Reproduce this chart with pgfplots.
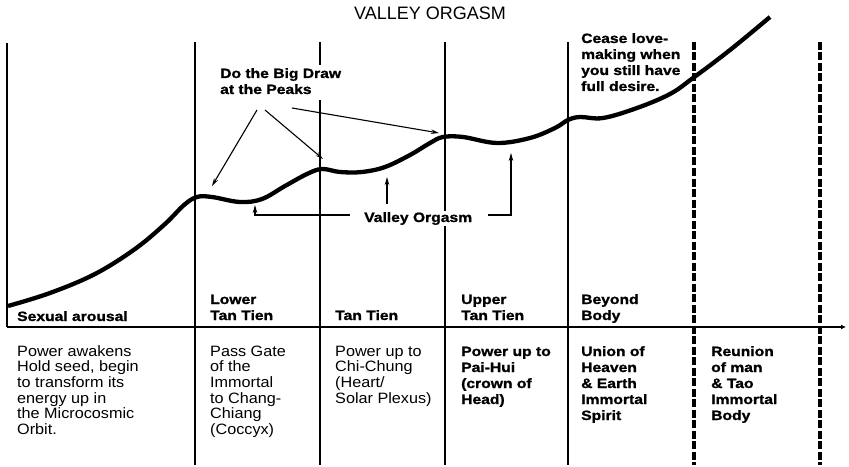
\documentclass[border=0pt]{standalone}
\usepackage{pgfplots}
\pgfplotsset{compat=1.18}
\usepackage{fontspec}
\setmainfont{Liberation Sans}
\newfontfamily\regf[FakeStretch=1.08]{Liberation Sans}
\newfontfamily\boldf[FakeStretch=1.16,FakeBold=1.2]{Liberation Sans Bold}
\usetikzlibrary{arrows.meta}
\newcommand{\ml}[1]{\begin{tabular}[t]{@{}l@{}}#1\end{tabular}}
\tikzset{
  reg/.style={anchor=base west, inner sep=0pt, font={\regf\fontsize{15bp}{15.7bp}\selectfont}},
  bld/.style={anchor=base west, inner sep=0pt, font={\boldf\fontsize{13.5bp}{16bp}\selectfont}},
  ann/.style={black, line width=1.1bp, -{Stealth[length=8bp,width=4.5bp]}},
}
\begin{document}
\begin{tikzpicture}
\begin{axis}[
  width=849bp, height=467bp, scale only axis,
  xmin=0, xmax=849, ymin=0, ymax=467, y dir=reverse,
  hide axis, clip=false,
]
\path (axis cs:0,0) rectangle (axis cs:849,467);
% frame lines
\addplot[black, line width=2.5bp] coordinates {(7,43) (7,327)};
\addplot[black, line width=2.5bp] coordinates {(195,42) (195,465)};
\addplot[black, line width=2.5bp] coordinates {(320,42) (320,465)};
\addplot[black, line width=2.5bp] coordinates {(445,42) (445,465)};
\addplot[black, line width=2.5bp] coordinates {(568,42) (568,465)};
\addplot[black, line width=3.5bp, dash pattern=on 8bp off 2.5bp] coordinates {(694,42) (694,465)};
\addplot[black, line width=3.5bp, dash pattern=on 8bp off 2.5bp] coordinates {(820,42) (820,465)};
\addplot[black, line width=2.5bp, -{Latex[length=5bp,width=5bp]}] coordinates {(7,327) (846,327)};
% curve
\addplot[black, line width=4.3bp, smooth, tension=0.6] coordinates {
(8,306) (50,293) (95,274) (135,249) (165,224) (184,205) (197,197)
(212,197) (240,202) (262,199) (285,186) (307,174) (322,169) (340,172) (362,172) (385,167)
(410,155) (430,143) (443,137) (463,137) (497,143) (530,138) (555,128) (568,120)
(580,117) (603,118) (637,108) (670,94) (693,78) (730,50) (770,17)};
% annotation arrows
\addplot[ann] coordinates {(257,110) (212,186)};
\addplot[ann] coordinates {(265,110) (323,159)};
\addplot[ann] coordinates {(292,108) (439,133)};
\addplot[ann] coordinates {(350,215) (255,215) (255,205)};
\addplot[ann] coordinates {(387,204) (387,177)};
\addplot[ann] coordinates {(488,215) (511,215) (511,153)};
% title
\node[anchor=base, inner sep=0pt, font={\fontsize{18bp}{20bp}\selectfont}] at (axis cs:430,20) {VALLEY ORGASM};
% annotation texts
\node[bld, fill=white, inner sep=1.5bp] at (axis cs:218.5,78) {\ml{Do the Big Draw\\at the Peaks}};
\node[bld, fill=white, inner sep=1bp] at (axis cs:363,222) {Valley Orgasm};
\node[bld] at (axis cs:581,43) {\ml{Cease love-\\making when\\you still have\\full desire.}};
% stage labels
\node[bld] at (axis cs:17,321) {Sexual arousal};
\node[bld] at (axis cs:210,304) {\ml{Lower\\Tan Tien}};
\node[bld] at (axis cs:335,320) {Tan Tien};
\node[bld] at (axis cs:461,304) {\ml{Upper\\Tan Tien}};
\node[bld] at (axis cs:581,304) {\ml{Beyond\\Body}};
% descriptions
\node[reg] at (axis cs:17,356) {\ml{Power awakens\\Hold seed, begin\\to transform its\\energy up in\\the Microcosmic\\Orbit.}};
\node[reg] at (axis cs:210,356) {\ml{Pass Gate\\of the\\Immortal\\to Chang-\\Chiang\\(Coccyx)}};
\node[reg] at (axis cs:335,356) {\ml{Power up to\\Chi-Chung\\(Heart/\\Solar Plexus)}};
\node[bld] at (axis cs:461,356) {\ml{Power up to\\Pai-Hui\\(crown of\\Head)}};
\node[bld] at (axis cs:581,356) {\ml{Union of\\Heaven\\\& Earth\\Immortal\\Spirit}};
\node[bld] at (axis cs:711,356) {\ml{Reunion\\of man\\\& Tao\\Immortal\\Body}};
\end{axis}
\end{tikzpicture}
\end{document}
